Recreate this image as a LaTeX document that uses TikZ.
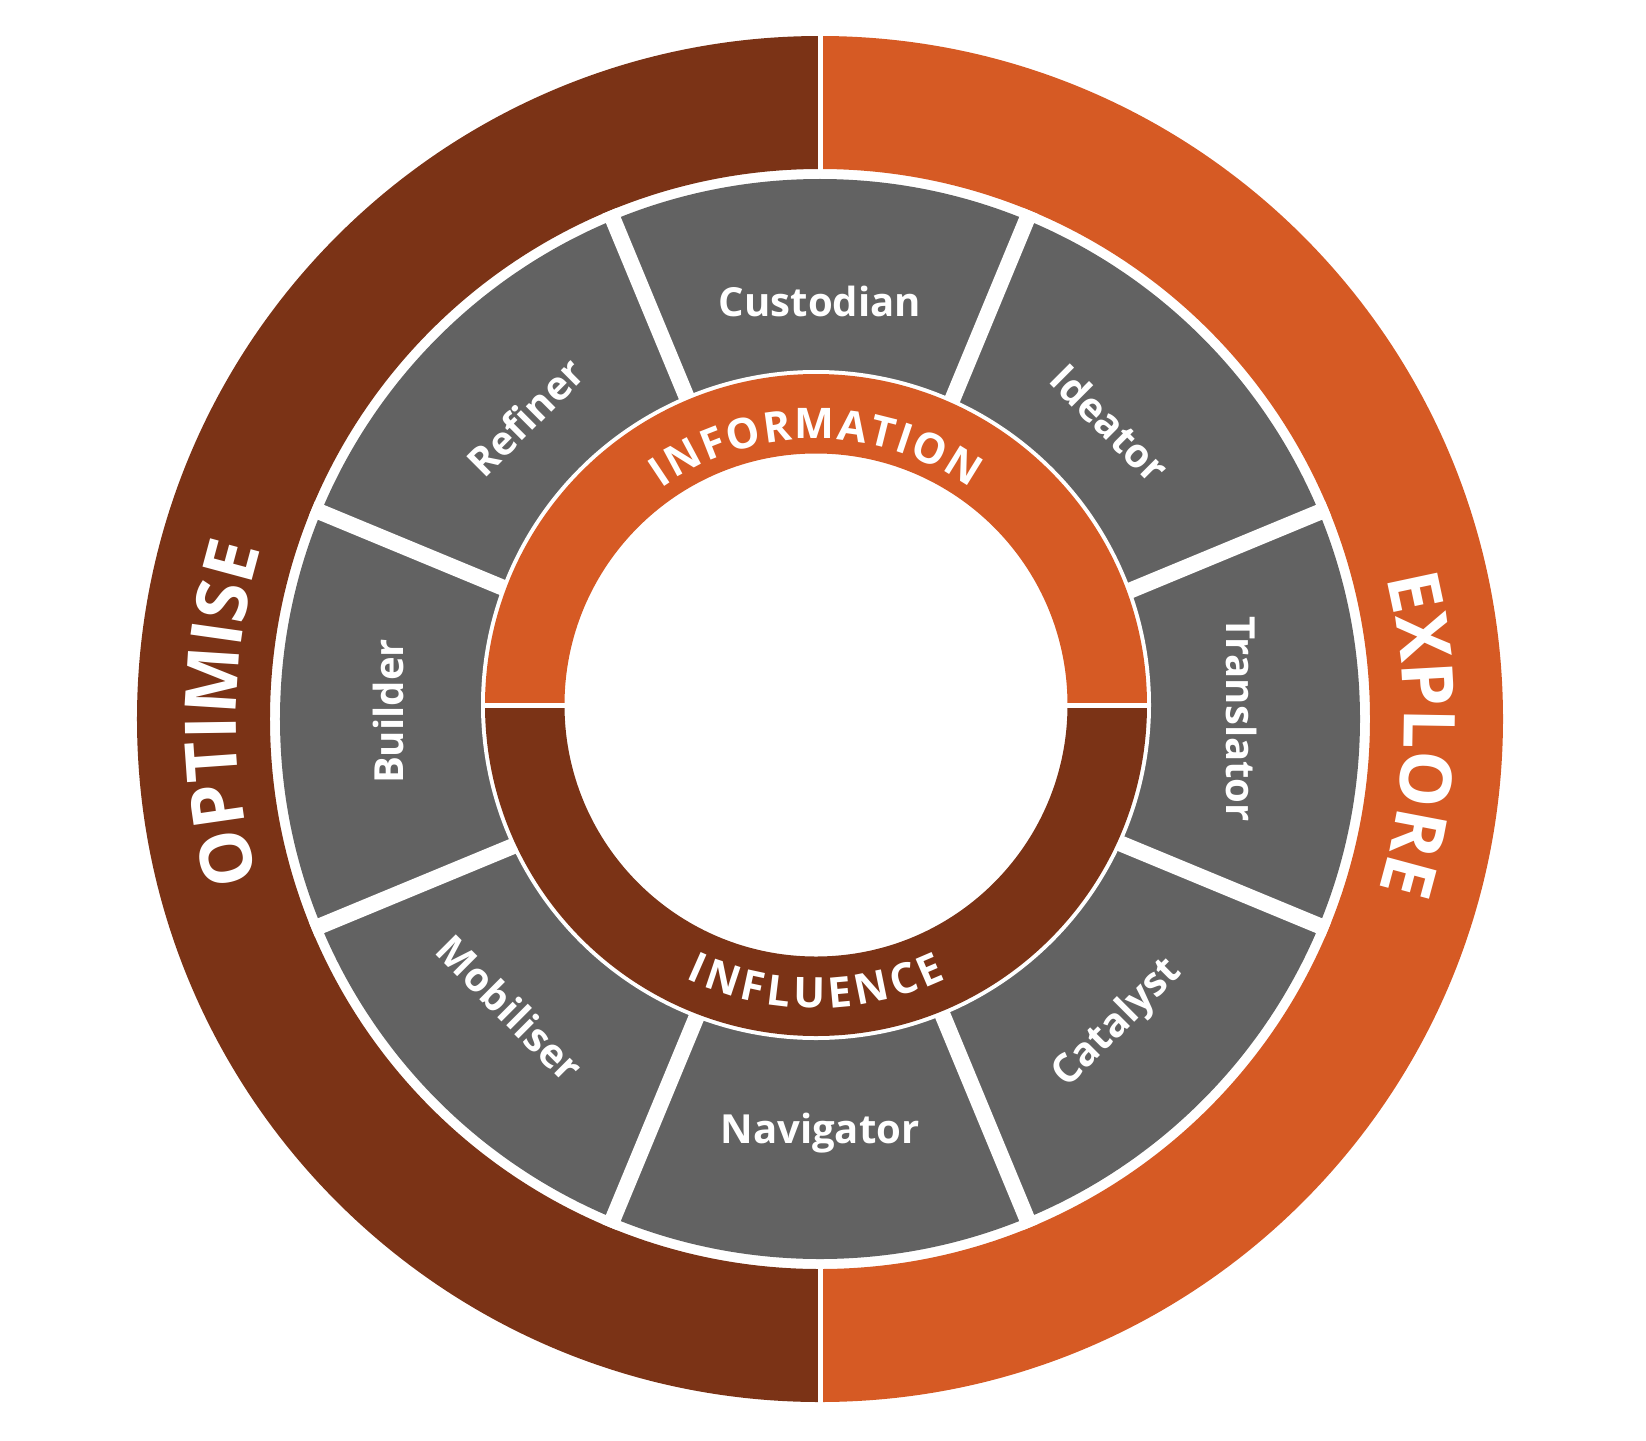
\documentclass[tikz,border=0pt]{standalone}
\usepackage{fontspec}
\setmainfont{Open Sans}
\usetikzlibrary{decorations.text}
\definecolor{Brown}{HTML}{7B3316}
\definecolor{Orange}{HTML}{D65A24}
\definecolor{Slate}{HTML}{626262}
\newcommand\ringfont{\bfseries\fontsize{12}{14}\selectfont}
\newcommand\bandfont{\bfseries\fontsize{20.3}{23}\selectfont}

\begin{document}
\begin{tikzpicture}[
  role/.style={text=white, inner sep=0pt, font=\bfseries\fontsize{11.4}{13}\selectfont},
  gap/.style={draw=white, line width=0.16cm},
  split/.style={draw=white, line width=0.05cm},
  ringtext/.style={decorate, decoration={text along path, text align=center, text color=white}}
]
\useasboundingbox (-8.20,-7.21) rectangle (8.26,7.19);

% outer band
\fill[Brown] (0,6.83) arc[start angle=90, end angle=270, radius=6.83] -- (0,-5.50) arc[start angle=270, end angle=90, radius=5.50] -- cycle;
\fill[Orange] (0,6.83) arc[start angle=90, end angle=-90, radius=6.83] -- (0,-5.50) arc[start angle=-90, end angle=90, radius=5.50] -- cycle;
\draw[split] (0,5.4) -- (0,6.9);
\draw[split] (0,-5.4) -- (0,-6.9);

\path[ringtext, decoration={text={|\bandfont|EXPLORE}}] (30:5.84) arc[start angle=30, end angle=-33, radius=5.84];
\path[ringtext, decoration={text={|\bandfont|OPTIMISE}}] (210:5.84) arc[start angle=210, end angle=149, radius=5.84];

% roles
\fill[Slate] (0,0) circle (5.40);
\foreach \a in {22.5,67.5,...,337.5}
  \draw[gap] (\a:2.9) -- (\a:5.5);

\node[role] (custodian) at (90:4.18) {Custodian};
\node[role, rotate=-45] (ideator) at (45.6:4.14) {Ideator};
\node[role, rotate=-90] (translator) at (0:4.22) {Translator};
\node[role, rotate=45] (catalyst) at (-45.6:4.26) {Catalyst};
\node[role] (navigator) at (270:4.14) {Navigator};
\node[role, rotate=-45] (mobiliser) at (223:4.24) {Mobiliser};
\node[role, rotate=90] (builder) at (179:4.32) {Builder};
\node[role, rotate=45] (refiner) at (134.3:4.22) {Refiner};

% inner ring
\coordinate (c) at (-0.04,0.14);
\fill[white] (c) circle (3.35);
\fill[Orange] ([shift={(0:3.31)}]c) arc[start angle=0, end angle=180, radius=3.31] -- ++(0.795,0) arc[start angle=180, end angle=0, radius=2.515] -- cycle;
\fill[Brown] ([shift={(180:3.31)}]c) arc[start angle=180, end angle=360, radius=3.31] -- ++(-0.795,0) arc[start angle=360, end angle=180, radius=2.515] -- cycle;
\draw[split] ([xshift=-3.35cm]c) -- ([xshift=3.35cm]c);

\path[ringtext, decoration={text={|\ringfont|{I\kern.6pt}{N\kern.6pt}{F\kern.6pt}{O\kern.6pt}{R\kern.6pt}{M\kern.6pt}{A\kern.6pt}{T\kern.6pt}{I\kern.6pt}{O\kern.6pt}N}}] ([shift={(170:2.66)}]c) arc[start angle=170, end angle=10, radius=2.66];
\path[ringtext, decoration={text={|\ringfont|{I\kern1.2pt}{N\kern1.2pt}{F\kern1.2pt}{L\kern1.2pt}{U\kern1.2pt}{E\kern1.2pt}{N\kern1.2pt}{C\kern1.2pt}E}}] ([shift={(195:3.03)}]c) arc[start angle=195, end angle=345, radius=3.03];
\end{tikzpicture}
\end{document}
